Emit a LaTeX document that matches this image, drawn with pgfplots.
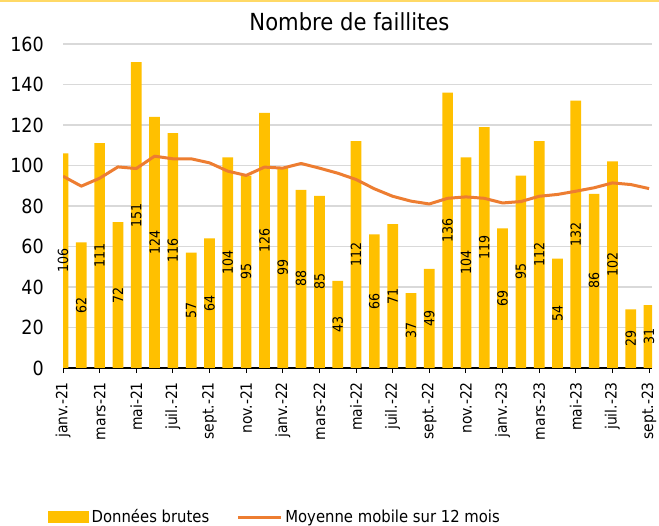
\documentclass[border=0pt]{standalone}
\usepackage{fontspec}
\setmainfont{DejaVu Sans Condensed}
\usepackage{pgfplots}
\usepackage{pgfplotstable}
\pgfplotsset{compat=1.18}
\definecolor{barc}{HTML}{FFC000}
\definecolor{linec}{HTML}{ED7D31}
\definecolor{gridc}{HTML}{D9D9D9}
\definecolor{topc}{HTML}{FFD966}

% x = mois depuis janv.-21, raw = nombre de faillites, avg = moyenne mobile 12 mois
\pgfplotstableread{
x raw avg
0 106 94.7
1 62 89.8
2 111 93.7
3 72 99.3
4 151 98.5
5 124 104.6
6 116 103.3
7 57 103.3
8 64 101.3
9 104 97.2
10 95 95.1
11 126 99.2
12 99 98.7
13 88 101.0
14 85 98.7
15 43 96.2
16 112 93.1
17 66 88.5
18 71 84.8
19 37 82.4
20 49 81.0
21 136 83.8
22 104 84.5
23 119 83.8
24 69 81.5
25 95 82.2
26 112 84.8
27 54 85.7
28 132 87.3
29 86 89.0
30 102 91.4
31 29 90.6
32 31 88.6
}\faillites

\begin{document}
\begin{tikzpicture}
\useasboundingbox (0,0) rectangle (659bp,526bp);
\fill[white] (0,0) rectangle (659bp,526bp);
\draw[topc, line width=2.5bp] (0,524.8bp) -- (659bp,524.8bp);
\node[font=\fontsize{23.5bp}{26bp}\selectfont, anchor=base] at (349.5bp,495bp) {Nombre de faillites};
\begin{axis}[
  at={(63bp,158bp)}, anchor=south west,
  scale only axis, width=589bp, height=324bp,
  xmin=0, xmax=32.16, ymin=0, ymax=160,
  axis x line*=bottom, axis y line*=left,
  y axis line style={draw=none},
  x axis line style={-, line width=1.3bp, black},
  clip mode=individual,
  /pgf/number format/assume math mode=true,
  ytick={0,20,...,160},
  ymajorgrids, grid style={gridc, line width=1.3bp},
  ytick style={draw=none},
  yticklabel style={font=\fontsize{19.5bp}{22bp}\selectfont, anchor=east, inner sep=0pt, xshift=-19bp},
  xtick={0,2,...,32},
  xticklabels={janv.-21,mars-21,mai-21,juil.-21,sept.-21,nov.-21,janv.-22,mars-22,mai-22,juil.-22,sept.-22,nov.-22,janv.-23,mars-23,mai-23,juil.-23,sept.-23},
  xtick align=outside, major tick length=5bp,
  xtick style={black, line width=1bp},
  xticklabel style={font=\fontsize{15.5bp}{18bp}\selectfont, yshift=-9bp, rotate=90, anchor=east, inner sep=0pt},
  legend style={draw=none, fill=none, inner sep=0pt, at={(-0.0255,-0.460)}, anchor=west,
    legend columns=2, font=\fontsize{16.5bp}{18bp}\selectfont,
    nodes={inner sep=2.5bp},
    /tikz/every even column/.append style={column sep=25bp}},
]
\addplot[ybar, bar width=10.7bp, fill=barc, draw=none,
  nodes near coords,
  visualization depends on=rawy \as \rawy,
  nodes near coords style={font=\fontsize{14bp}{16bp}\selectfont, black, anchor=center,
    shift={(axis direction cs:0,-\rawy/2)}, rotate=90, inner sep=0pt},
  legend image code/.code={\fill[barc] (0bp,-6bp) rectangle (41bp,6bp);}]
  table[x=x, y=raw] {\faillites};
\addlegendentry{Données brutes}
\addplot[linec, line width=3bp, line join=round, mark=none,
  legend image code/.code={\draw[linec, line width=3bp] (0bp,0bp) -- (43bp,0bp);}]
  table[x=x, y=avg] {\faillites};
\addlegendentry{Moyenne mobile sur 12 mois}
\end{axis}
\end{tikzpicture}
\end{document}
